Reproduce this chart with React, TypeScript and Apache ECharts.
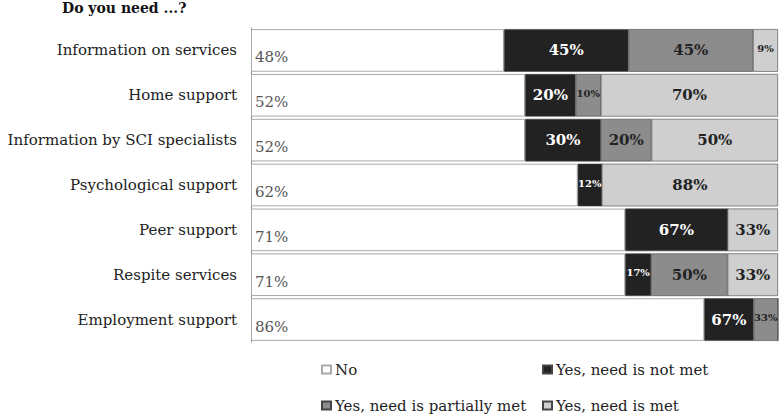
import React, { useEffect, useRef } from "react";
import * as echarts from "echarts";

const titleText = "Do you need ...?";
const categories = [
  "Information on services",
  "Home support",
  "Information by SCI specialists",
  "Psychological support",
  "Peer support",
  "Respite services",
  "Employment support",
];
const noPct = [48, 52, 52, 62, 71, 71, 86];
const notMet = [45, 20, 30, 12, 67, 17, 67];
const partMet = [45, 10, 20, 0, 0, 50, 33];
const met = [9, 70, 50, 88, 33, 33, 0];
const seriesNames = ["No", "Yes, need is not met", "Yes, need is partially met", "Yes, need is met"];

const FONT = "DejaVu Serif";

export default function App() {
  const ref = useRef<HTMLDivElement>(null);
  useEffect(() => {
    if (!ref.current) return;
    const chart = echarts.init(ref.current, undefined, { renderer: "svg" });

    const yesSeg = (arr: number[], color: string, textColor: string, name: string) => ({
      name,
      type: "bar",
      stack: "total",
      barCategoryGap: "5%",
      itemStyle: { color, borderColor: "#444", borderWidth: 0.6 },
      data: arr.map((share, i) => {
        const total = notMet[i] + partMet[i] + met[i];
        const w = (share / total) * (100 - noPct[i]);
        const small = w < 6;
        return {
          value: w,
          label: {
            show: share > 0,
            formatter: share + "%",
            fontSize: small ? 10 : 15,
            offset: [0, small ? -2 : 0],
          },
        };
      }),
      label: {
        show: true,
        position: "inside",
        color: textColor,
        fontFamily: FONT,
        fontWeight: "bold",
      },
    });

    const legendItem = (name: string, left: number, top: number) => ({
      data: [name],
      left,
      top,
      orient: "horizontal",
      icon: "rect",
      itemWidth: 9,
      itemHeight: 8,
      itemGap: 4,
      textStyle: { fontFamily: FONT, fontSize: 15, color: "#222", padding: [0, 0, 0, -1] },
    });

    chart.setOption({
      animation: false,
      title: {
        text: titleText,
        left: 60,
        top: 0,
        padding: [1, 2, 2, 2],
        textStyle: { fontFamily: FONT, fontWeight: "bold", fontSize: 14, color: "#111" },
      },
      legend: [
        legendItem(seriesNames[0], 316, 357),
        legendItem(seriesNames[1], 537, 357),
        legendItem(seriesNames[2], 316, 393),
        legendItem(seriesNames[3], 537, 393),
      ],
      grid: { left: 251, right: 5, top: 28, bottom: 75, containLabel: false },
      xAxis: { type: "value", min: 0, max: 100, show: false },
      yAxis: {
        type: "category",
        data: categories,
        inverse: true,
        axisLine: { show: true, lineStyle: { color: "#888", width: 1 } },
        axisTick: { show: false },
        axisLabel: { fontFamily: FONT, fontSize: 15, color: "#222", margin: 14 },
      },
      series: [
        {
          name: seriesNames[0],
          type: "bar",
          stack: "total",
          barCategoryGap: "5%",
          itemStyle: { color: "#ffffff", borderColor: "#aaa", borderWidth: 1 },
          label: {
            show: true,
            position: "insideLeft",
            offset: [0, 7],
            formatter: (p: any) => noPct[p.dataIndex] + "%",
            fontFamily: FONT,
            fontSize: 15,
            color: "#555",
            distance: 4,
          },
          data: noPct,
        },
        yesSeg(notMet, "#222222", "#ffffff", seriesNames[1]),
        yesSeg(partMet, "#8c8c8c", "#222222", seriesNames[2]),
        yesSeg(met, "#cfcfcf", "#222222", seriesNames[3]),
      ],
    });
    return () => chart.dispose();
  }, []);
  return (
    <div
      ref={ref}
      style={{ position: "absolute", left: 0, top: 0, width: 783, height: 417 }}
    />
  );
}
